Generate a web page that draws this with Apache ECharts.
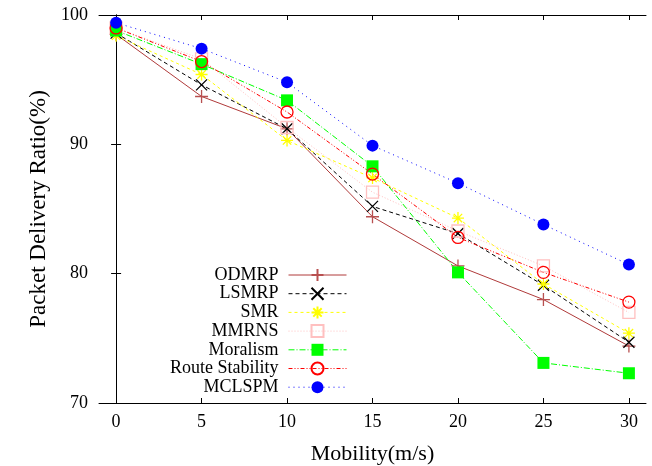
<!DOCTYPE html>
<html>
<head>
<meta charset="utf-8">
<script src="https://cdn.jsdelivr.net/npm/echarts@6/dist/echarts.min.js"></script>
<style>
  html, body { margin: 0; padding: 0; background: #fff; }
  #chart { width: 652px; height: 466px; }
</style>
</head>
<body>
<div id="chart"></div>
<script>
// mobility (m/s) on the x axis
var mobility = [0, 5, 10, 15, 20, 25, 30];
var xTicks = [0, 5, 10, 15, 20, 25, 30];

// packet delivery ratio (%) per protocol
var odmrp = [98.5, 93.7, 91.2, 84.4, 80.6, 78.0, 74.4];
var lsmrp = [98.6, 94.6, 91.2, 85.2, 83.1, 79.1, 74.7];
var smr = [98.4, 95.4, 90.3, 87.4, 84.3, 79.2, 75.4];
var mmrns = [99.0, 96.6, 91.3, 86.3, 83.3, 80.6, 77.0];
var moralism = [98.8, 96.2, 93.4, 88.3, 80.1, 73.1, 72.3];
var routeStability = [99.0, 96.4, 92.5, 87.7, 82.8, 80.1, 77.8];
var mclspm = [99.4, 97.4, 94.8, 89.9, 87.0, 83.8, 80.7];

var FONT = '"Liberation Serif", "DejaVu Serif", serif';

function pts(arr) {
  return mobility.map(function (m, i) { return [m, arr[i]]; });
}

// gnuplot-like point shapes
var PLUS = 'path://M0,5L10,5M5,0L5,10';
var CROSS = 'path://M0,0L10,10M0,10L10,0';
var STAR = 'path://M5,0L5,10M0,5L10,5M1.5,1.5L8.5,8.5M1.5,8.5L8.5,1.5';

function line(name, data, color, dash, symbol, size, filled, markColor) {
  var mc = markColor || color;
  return {
    name: name,
    type: 'line',
    xAxisIndex: 0,
    yAxisIndex: 0,
    data: pts(data),
    symbol: symbol,
    symbolSize: size,
    showAllSymbol: true,
    animation: false,
    lineStyle: { color: color, width: 1, type: dash },
    itemStyle: filled
      ? { color: mc, borderWidth: 0 }
      : { color: 'none', borderColor: mc, borderWidth: 1.3 },
    emphasis: { disabled: true }
  };
}

var chart = echarts.init(document.getElementById('chart'));

var mirrorTick = { show: true, inside: true, length: 5, lineStyle: { color: '#000' } };

chart.setOption({
  backgroundColor: '#fff',
  textStyle: { fontFamily: FONT },
  grid: { left: 99, right: 6, top: 15, bottom: 63, outerBoundsMode: 'none', containLabel: false },
  legend: {
    orient: 'vertical',
    align: 'right',
    right: 305,
    top: 266,
    padding: 0,
    itemWidth: 58,
    itemHeight: 15,
    itemGap: 0.7,
    lineStyle: { width: 1 },
    textStyle: { fontFamily: FONT, fontSize: 18, lineHeight: 18, color: '#000', padding: [0, 5, 0, 0] },
    data: ['ODMRP', 'LSMRP', 'SMR', 'MMRNS', 'Moralism', 'Route Stability', 'MCLSPM']
  },
  xAxis: [{
    type: 'value',
    min: -1,
    max: 31,
    name: 'Mobility(m/s)',
    nameLocation: 'middle',
    nameGap: 40,
    nameTextStyle: { fontFamily: FONT, fontSize: 22, color: '#000' },
    axisLine: { show: true, lineStyle: { color: '#000', width: 1 } },
    axisTick: { show: true, inside: true, length: 5, customValues: xTicks, lineStyle: { color: '#000' } },
    axisLabel: { customValues: xTicks, margin: 10, fontFamily: FONT, fontSize: 18, color: '#000' },
    splitLine: { show: false }
  }, {
    type: 'value',
    position: 'top',
    min: -1,
    max: 31,
    axisLine: { show: true, lineStyle: { color: '#000', width: 1 } },
    axisTick: Object.assign({ customValues: xTicks }, mirrorTick),
    axisLabel: { show: false },
    splitLine: { show: false }
  }],
  yAxis: [{
    type: 'value',
    min: 70,
    max: 100,
    interval: 10,
    name: 'Packet Delivery Ratio(%)',
    nameLocation: 'middle',
    nameGap: 37,
    nameTextStyle: { fontFamily: FONT, fontSize: 23, color: '#000' },
    axisLine: { show: true, lineStyle: { color: '#000', width: 1 } },
    axisTick: { show: true, inside: true, length: 5, lineStyle: { color: '#000' } },
    axisLabel: { margin: 11, fontFamily: FONT, fontSize: 18, color: '#000' },
    splitLine: { show: false }
  }, {
    type: 'value',
    position: 'right',
    min: 70,
    max: 100,
    interval: 10,
    axisLine: { show: true, lineStyle: { color: '#000', width: 1 } },
    axisTick: mirrorTick,
    axisLabel: { show: false },
    splitLine: { show: false }
  }],
  series: [
    line('ODMRP', odmrp, '#b03a3a', 'solid', PLUS, 13, false, '#b85050'),
    line('LSMRP', lsmrp, '#000000', [4, 3], CROSS, 11, false),
    line('SMR', smr, '#ffff00', [3, 3], STAR, 12, false),
    line('MMRNS', mmrns, '#ffc0c0', [1, 2], 'rect', 12, false),
    line('Moralism', moralism, '#00ff00', [6, 2, 1, 2], 'rect', 12, true),
    line('Route Stability', routeStability, '#ff0000', [4, 2, 1, 2, 1, 2], 'circle', 12, false),
    line('MCLSPM', mclspm, '#0000ff', [1, 4], 'circle', 12, true)
  ]
});
</script>
</body>
</html>
